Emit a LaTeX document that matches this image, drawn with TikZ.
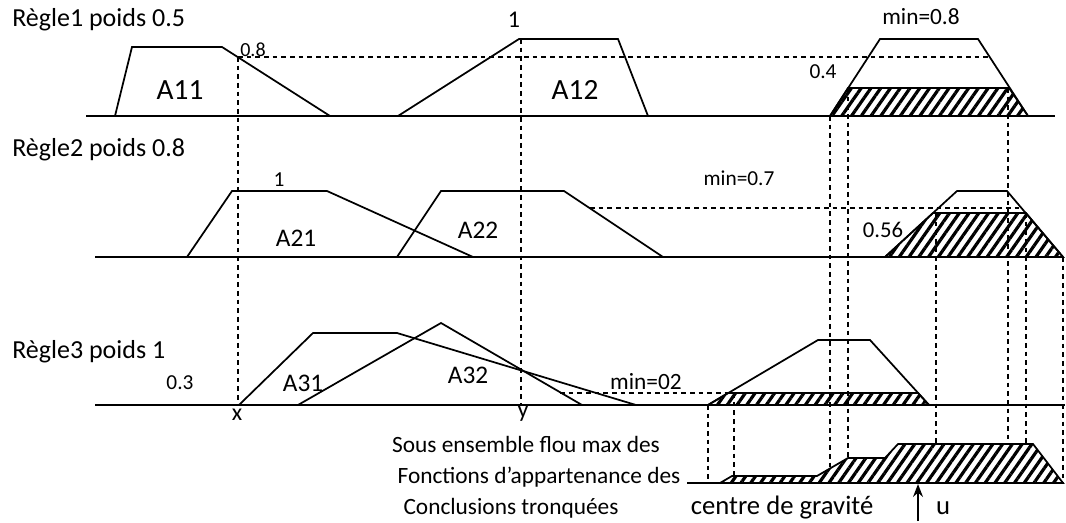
\documentclass[tikz,border=0pt]{standalone}
\usepackage{fontspec}
\setmainfont{Carlito}
\usetikzlibrary{arrows.meta,patterns.meta}

\begin{document}
\begin{tikzpicture}[x=0.75pt,y=-0.75pt]
\tikzset{
  axisline/.style={draw=black,line width=1.3pt},
  memberfn/.style={draw=black,line width=1.3pt,line join=miter},
  cutset/.style={draw=black,line width=1.3pt,pattern={Lines[angle=55,distance=6pt,line width=2.4pt]}},
  projline/.style={draw=black,line width=1pt,dash pattern=on 3.5pt off 3pt},
  rulelabel/.style={anchor=west,inner sep=0pt,font=\fontsize{19.5}{22}\selectfont},
  setlabel/.style={inner sep=0pt,font=\fontsize{22}{25}\selectfont},
  degree/.style={inner sep=0pt,font=\fontsize{16}{19}\selectfont},
  notetext/.style={inner sep=0pt,font=\fontsize{17.5}{20}\selectfont}
}
\useasboundingbox (0,0) rectangle (1066,523);
\node[rulelabel] (n_R1) at (12,20) {Règle1 poids 0.5};
\node[rulelabel] (n_R2) at (12,150) {Règle2 poids 0.8};
\node[rulelabel] (n_R3) at (12,352) {Règle3 poids 1};
\node[setlabel] (n_A11) at (180,90) {A11};
\node[setlabel] (n_A12) at (575,90) {A12};
\node[setlabel,font=\fontsize{19}{22}\selectfont] (n_A21) at (296,238) {A21};
\node[setlabel,font=\fontsize{19}{22}\selectfont] (n_A22) at (478,230) {A22};
\node[setlabel,font=\fontsize{19}{22}\selectfont] (n_A31) at (303,383) {A31};
\node[setlabel,font=\fontsize{19}{22}\selectfont] (n_A32) at (468,375) {A32};
\node[degree,font=\fontsize{15}{18}\selectfont] (n_d08) at (253,50) {0.8};
\node[degree,font=\fontsize{18}{21}\selectfont] (n_d1a) at (514,20) {1};
\node[degree] (n_d1b) at (279,180) {1};
\node[degree] (n_d03) at (180,383) {0.3};
\node[degree] (n_d04) at (823,72) {0.4};
\node[degree,font=\fontsize{17}{20}\selectfont] (n_d056) at (883,230) {0.56};
\node[degree,font=\fontsize{17.5}{20}\selectfont] (n_min1) at (921,17) {min=0.8};
\node[degree] (n_min2) at (739,178) {min=0.7};
\node[degree,font=\fontsize{17.5}{20}\selectfont] (n_min3) at (646,382) {min=02};
\node[setlabel,font=\fontsize{18}{21}\selectfont] (n_x) at (237,415) {x};
\node[setlabel,font=\fontsize{18}{21}\selectfont] (n_y) at (523,414) {y};
\node[notetext] (n_t1) at (526,444) {Sous ensemble flou max des};
\node[notetext] (n_t2) at (539,477) {Fonctions d’appartenance des};
\node[notetext] (n_t3) at (511,508) {Conclusions tronquées};
\node[setlabel,font=\fontsize{20}{23}\selectfont] (n_cg) at (782,508) {centre de gravité};
\node[setlabel,font=\fontsize{20}{23}\selectfont] (n_u) at (943,508) {u};
\coordinate (c_u0) at (918,521);
\coordinate (c_u1) at (918,484);
\draw[axisline] (86,116) -- (1055,116);
\draw[axisline] (95,257) -- (1063,257);
\draw[axisline] (95,405) -- (1065,405);
\draw[axisline] (687,483) -- (1063,483);
\draw[memberfn] (115,116) -- (132,47) -- (222,47) -- (330,116);
\draw[memberfn] (398,116) -- (519,39) -- (618,39) -- (648,116);
\draw[memberfn] (830,116) -- (880,39) -- (978,39) -- (1028,116);
\draw[cutset] (830,116) -- (848,88) -- (1009,88) -- (1028,116) -- cycle;
\draw[memberfn] (187,257) -- (232,191) -- (327,191) -- (473,257);
\draw[memberfn] (397,257) -- (441,191) -- (564,191) -- (663,257);
\draw[memberfn] (885,257) -- (957,191) -- (1007,191) -- (1063,257);
\draw[cutset] (885,257) -- (933,213) -- (1026,213) -- (1063,257) -- cycle;
\draw[memberfn] (239,405) -- (313,333) -- (397,333) -- (636,405);
\draw[memberfn] (298,405) -- (441,323) -- (582,405);
\draw[memberfn] (708,405) -- (818,340) -- (870,340) -- (929,405);
\draw[cutset] (708,405) -- (728,393) -- (918,393) -- (929,405) -- cycle;
\draw[cutset] (720,483) -- (732,476) -- (817,476) -- (848,458) -- (885,458) -- (898,444) -- (1033,444) -- (1063,483) -- cycle;
\coordinate (c_h1a) at (238,57);
\coordinate (c_h1b) at (990,57);
\coordinate (c_h2a) at (590,208);
\coordinate (c_h2b) at (1021,208);
\coordinate (c_h3a) at (560,393);
\coordinate (c_h3b) at (728,393);
\draw[projline] (c_h1a) -- (c_h1b);
\draw[projline] (c_h2a) -- (c_h2b);
\draw[projline] (c_h3a) -- (c_h3b);
\draw[projline] (c_h1a) -- (238,405);
\draw[projline] (521,39) -- (521,405);
\draw[projline] (830,116) -- (830,469);
\draw[projline] (848,88) -- (848,458);
\draw[projline] (1008,88) -- (1008,444);
\draw[projline] (936,213) -- (936,444);
\draw[projline] (1026,213) -- (1026,444);
\draw[projline] (1063,257) -- (1063,483);
\draw[projline] (708,405) -- (708,483);
\draw[projline] (734,393) -- (734,476);
\draw[line width=1.3pt,-{Stealth[length=3.4mm,width=2.6mm]}] (c_u0) -- (c_u1);
\end{tikzpicture}
\end{document}
